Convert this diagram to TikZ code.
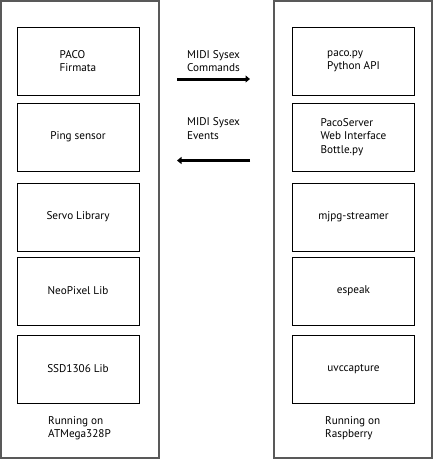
\documentclass[tikz,border=0pt]{standalone}
\usepackage{fontspec}
\setmainfont{PT Sans}
\usetikzlibrary{positioning}
\usetikzlibrary{arrows.meta}

\tikzset{
  module/.style={draw, line width=0.9pt, minimum width=122pt, minimum height=68pt, align=left, inner sep=0pt, font=\fontsize{11.2}{13.3}\selectfont},
  board/.style={draw=black!65, line width=1.4pt},
  caption/.style={align=left, anchor=west, inner sep=0pt, font=\fontsize{11.2}{13.3}\selectfont},
  msg/.style={line width=3pt, -{Triangle[length=4.5pt, width=7pt]}}
}

\begin{document}
\begin{tikzpicture}[x=1pt, y=-1pt]
      \useasboundingbox (0, 0) rectangle (434, 459);
      \draw[board] (1, 1) rectangle (159, 458);
      \draw[board] (274, 1) rectangle (432, 458);

      \node[module] (firmata) at (78, 61) {PACO\\Firmata};
      \node[module] (ping) at (78, 137) {Ping sensor};
      \node[module] (servo) at (78, 217) {Servo Library};
      \node[module] (neopixel) at (78, 291) {NeoPixel Lib};
      \node[module] (ssd) at (78, 369) {SSD1306 Lib};
      \node[caption] (atmega) at (48, 428.5) {Running on\\ATMega328P};

      \node[module] (pacopy) at (353.5, 61) {paco.py\\Python API};
      \node[module] (server) at (353.5, 137) {PacoServer\\Web Interface\\Bottle.py};
      \node[module] (mjpg) at (353.5, 217) {mjpg-streamer};
      \node[module] (espeak) at (353.5, 291) {espeak};
      \node[module] (uvc) at (353.5, 369) {uvccapture};
      \node[caption] (raspberry) at (325, 428.5) {Running on\\Raspberry};

      \node[caption] (commands) at (187, 61) {MIDI Sysex\\Commands};
      \node[caption] (events) at (187, 128.5) {MIDI Sysex\\Events};

      \coordinate (cmdstart) at (177, 79);
      \coordinate (cmdend) at (250, 79);
      \coordinate (evtstart) at (250, 160.5);
      \coordinate (evtend) at (177, 160.5);
      \draw[msg] (cmdstart) -- (cmdend);
      \draw[msg] (evtstart) -- (evtend);
    \end{tikzpicture}
\end{document}
